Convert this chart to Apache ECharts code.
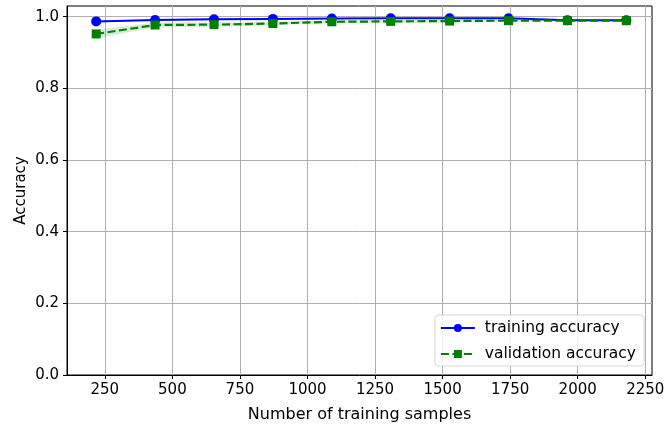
<!DOCTYPE html>
<html><head><meta charset="utf-8">
<script src="https://cdn.jsdelivr.net/npm/echarts@6/dist/echarts.min.js"></script>
<style>html,body{margin:0;padding:0;background:#fff}#c{width:665px;height:426px}</style>
</head><body><div id="c"></div>
<script>
const trainSizes = [218, 436, 654, 872, 1090, 1308, 1526, 1744, 1962, 2180];
const trainMean = [0.987, 0.991, 0.993, 0.994, 0.995, 0.996, 0.996, 0.996, 0.990, 0.990];
const trainStd = [0.002, 0.002, 0.002, 0.002, 0.001, 0.001, 0.001, 0.001, 0.001, 0.001];
const valMean = [0.952, 0.977, 0.978, 0.981, 0.986, 0.987, 0.988, 0.989, 0.989, 0.989];
const valStd = [0.012, 0.007, 0.006, 0.005, 0.004, 0.004, 0.004, 0.003, 0.003, 0.003];
const xTicks = [250, 500, 750, 1000, 1250, 1500, 1750, 2000, 2250];
const yTicks = [0, 0.2, 0.4, 0.6, 0.8, 1.0];

const pair = (xs, ys) => xs.map((x, i) => [x, ys[i]]);
const font = 'DejaVu Sans';

function bandSeries(xs, mean, std, color) {
  return {
    type: 'custom', silent: true, z: 1,
    data: xs.map((x, i) => [x, mean[i]]),
    renderItem: function (params, api) {
      if (params.dataIndex !== 0) return null;
      const upper = xs.map((x, i) => api.coord([x, mean[i] + std[i]]));
      const lower = xs.map((x, i) => api.coord([x, mean[i] - std[i]])).reverse();
      return {
        type: 'polygon',
        shape: {points: upper.concat(lower)},
        style: {fill: color, stroke: null}
      };
    }
  };
}

const chart = echarts.init(document.getElementById('c'), null, {renderer: 'canvas'});
chart.setOption({
  animation: false,
  backgroundColor: '#fff',
  textStyle: {fontFamily: font},
  grid: {left: 67, right: 13, top: 6, bottom: 51, show: true, borderColor: '#000', borderWidth: 1,
    backgroundColor: 'transparent', containLabel: false, outerBoundsMode: 'none'},
  xAxis: {
    type: 'value', min: 110, max: 2275,
    name: 'Number of training samples', nameLocation: 'middle', nameGap: 32, nameMoveOverlap: false,
    nameTextStyle: {fontFamily: font, fontSize: 16, color: '#000'},
    axisLine: {show: true, lineStyle: {color: '#000', width: 1}},
    axisTick: {show: true, customValues: xTicks, length: 4, lineStyle: {color: '#000'}},
    axisLabel: {customValues: xTicks, fontFamily: font, fontSize: 15, color: '#000', margin: 8,
      formatter: v => String(v)},
    splitLine: {show: true, lineStyle: {color: '#b0b0b0', width: 1}}
  },
  yAxis: {
    type: 'value', min: 0, max: 1.03,
    name: 'Accuracy', nameLocation: 'middle', nameGap: 38, nameMoveOverlap: false,
    nameTextStyle: {fontFamily: font, fontSize: 15, color: '#000'},
    axisLine: {show: true, lineStyle: {color: '#000', width: 1}},
    axisTick: {show: true, customValues: yTicks, length: 4, lineStyle: {color: '#000'}},
    axisLabel: {customValues: yTicks, fontFamily: font, fontSize: 15, color: '#000', margin: 8,
      formatter: v => v.toFixed(1)},
    splitLine: {show: true, lineStyle: {color: '#b0b0b0', width: 1}}
  },
  legend: {
    orient: 'vertical', right: 21, bottom: 60,
    data: ['training accuracy', 'validation accuracy'],
    backgroundColor: 'rgba(255,255,255,0.8)', borderColor: '#d6d6d6', borderWidth: 1, borderRadius: 4,
    padding: [5, 8, 4, 5], itemGap: 10, itemWidth: 34, itemHeight: 10,
    formatter: n => ' ' + n,
    textStyle: {fontFamily: font, fontSize: 15.5, color: '#000', lineHeight: 14}
  },
  series: [
    bandSeries(trainSizes, trainMean, trainStd, 'rgba(0,0,255,0.15)'),
    bandSeries(trainSizes, valMean, valStd, 'rgba(0,128,0,0.15)'),
    {name: 'training accuracy', type: 'line', data: pair(trainSizes, trainMean), symbol: 'circle', symbolSize: 10,
      color: '#0000ff', lineStyle: {color: '#0000ff', width: 2}, itemStyle: {color: '#0000ff'}, z: 3},
    {name: 'validation accuracy', type: 'line', data: pair(trainSizes, valMean), symbol: 'rect', symbolSize: 9,
      color: '#008000', lineStyle: {color: '#008000', width: 2.2, type: [8, 3.5]}, itemStyle: {color: '#008000'}, z: 4}
  ]
});
</script></body></html>
